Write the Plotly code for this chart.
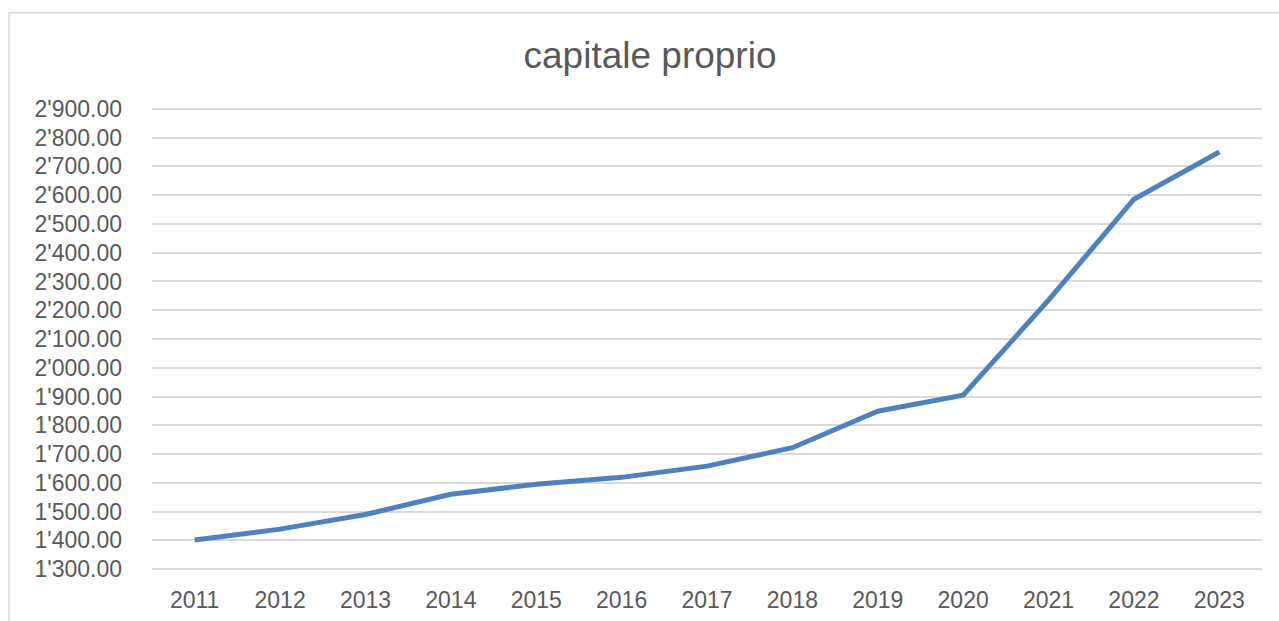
import plotly.graph_objects as go

years = ["2011", "2012", "2013", "2014", "2015", "2016", "2017",
         "2018", "2019", "2020", "2021", "2022", "2023"]
capitale = [1401, 1439, 1490, 1560, 1595, 1619, 1658,
            1722, 1849, 1905, 2235, 2586, 2750]
y_ticks = list(range(1300, 3000, 100))
y_tick_labels = [f"{v // 1000}'{v % 1000:03d}.00" for v in y_ticks]

W, H = 1279, 621
L, R, T, B = 152, 17, 106, 49
pw, ph = W - L - R, H - T - B

fig = go.Figure()
fig.add_trace(go.Scatter(
    x=years, y=capitale, mode="lines",
    line=dict(color="#4f81bd", width=5),
    hoverinfo="x+y",
))

font_family = "Liberation Sans, Arial, sans-serif"
border_color = "#d9d9d9"
x_left = (9 - L) / pw
y_top = (H - B - 12.7) / ph
fig.update_layout(
    width=W, height=H,
    margin=dict(l=L, r=R, t=T, b=B, autoexpand=False),
    paper_bgcolor="white", plot_bgcolor="white",
    showlegend=False,
    title=dict(text="capitale proprio", x=650 / W, xanchor="center",
               xref="container", yref="container", y=(H - 55) / H, yanchor="middle",
               font=dict(family=font_family, size=37, color="#595959")),
    font=dict(family=font_family, color="#595959"),
    xaxis=dict(type="category", range=[-0.5, len(years) - 0.5],
               showgrid=False, zeroline=False, showline=False, automargin=False,
               ticks="", tickfont=dict(size=23, color="#595959"),
               ticklabelstandoff=12),
    yaxis=dict(range=[1290, 2910], tickvals=y_ticks, ticktext=y_tick_labels,
               showgrid=True, gridcolor="#d9d9d9", gridwidth=1.5,
               zeroline=False, showline=False, ticks="", automargin=False,
               tickfont=dict(size=23, color="#595959"),
               ticklabelstandoff=29),
    shapes=[
        dict(type="line", xref="paper", yref="paper",
             x0=x_left, x1=(W + 20 - L) / pw, y0=y_top, y1=y_top,
             line=dict(color=border_color, width=1.5), layer="below"),
        dict(type="line", xref="paper", yref="paper",
             x0=x_left, x1=x_left, y0=y_top, y1=(H - B - (H + 20)) / ph,
             line=dict(color=border_color, width=1.5), layer="below"),
    ],
)

fig.write_html("out.html",
               config={"displayModeBar": False},
               post_script="document.body.style.margin='0';document.body.style.overflow='hidden';")
